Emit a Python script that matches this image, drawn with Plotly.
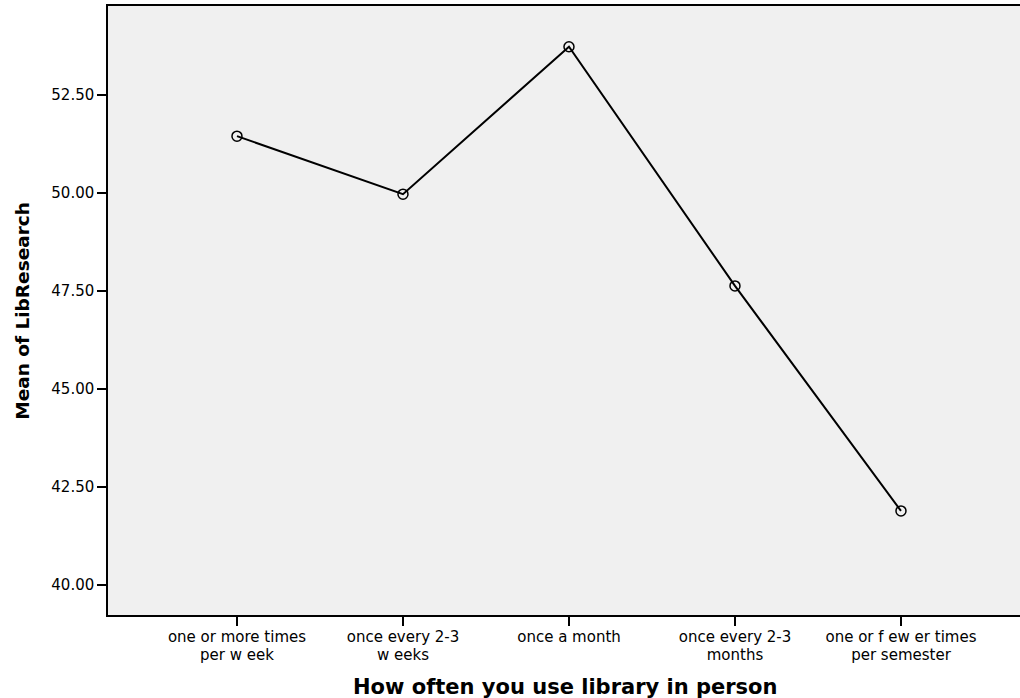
import plotly.graph_objects as go

categories = [
    "one or more times",
    "once every 2-3",
    "once a month",
    "once every 2-3",
    "one or f ew er times",
]
categories_line2 = [
    "per w eek",
    "w eeks",
    "",
    "months",
    "per semester",
]
means = [51.45, 49.97, 53.73, 47.63, 41.89]
y_ticks = [40.0, 42.5, 45.0, 47.5, 50.0, 52.5]
y_ticklabels = ["40.00", "42.50", "45.00", "47.50", "50.00", "52.50"]
x_title = "How often you use library in person"
y_title = "Mean of LibResearch"

font_family = "DejaVu Sans, Arial, sans-serif"
xpos = list(range(len(categories)))

fig = go.Figure()
fig.add_trace(go.Scatter(
    x=xpos,
    y=means,
    mode="lines+markers",
    line=dict(color="black", width=2),
    marker=dict(symbol="circle-open", size=10, color="black", line=dict(width=1.5, color="black")),
    showlegend=False,
    hoverinfo="skip",
))
# invisible carrier trace so the second-line label axis is drawn
fig.add_trace(go.Scatter(
    x=xpos,
    y=means,
    xaxis="x2",
    mode="lines",
    line=dict(width=0, color="rgba(0,0,0,0)"),
    opacity=0,
    showlegend=False,
    hoverinfo="skip",
))

fig.update_layout(
    width=1020, height=698,
    margin=dict(l=108, r=0, t=6, b=83),
    paper_bgcolor="white",
    plot_bgcolor="#f0f0f0",
    font=dict(family=font_family, color="black"),
)
fig.update_layout(
    xaxis=dict(
        tickmode="array",
        tickvals=xpos,
        ticktext=categories,
        range=[-0.777, 4.717],
        showgrid=False, zeroline=False,
        showline=True, linecolor="black", linewidth=1.5, mirror=True,
        ticks="outside", ticklen=9, tickwidth=1.5, tickcolor="black",
        tickfont=dict(size=15, family=font_family, color="black"),
        ticklabelstandoff=-2,
    ),
    xaxis2=dict(
        overlaying="x",
        matches="x",
        side="bottom",
        anchor="y",
        tickmode="array",
        tickvals=xpos,
        ticktext=categories_line2,
        range=[-0.777, 4.717],
        showgrid=False, zeroline=False, showline=False,
        ticks="",
        tickfont=dict(size=15, family=font_family, color="black"),
        ticklabelstandoff=29,
    ),
    yaxis=dict(
        tickmode="array",
        tickvals=y_ticks,
        ticktext=y_ticklabels,
        range=[39.235, 54.77],
        showgrid=False, zeroline=False,
        showline=True, linecolor="black", linewidth=1.5,
        ticks="outside", ticklen=9, tickwidth=1.5, tickcolor="black",
        tickfont=dict(size=15, family=font_family, color="black"),
    ),
)
fig.add_annotation(
    text="<b>" + x_title + "</b>", xref="paper", yref="paper",
    x=0.501, y=-0.118, xanchor="center", yanchor="middle", showarrow=False,
    font=dict(size=21, family=font_family, color="black"),
)
fig.add_annotation(
    text="<b>" + y_title + "</b>", xref="paper", yref="paper",
    x=-0.094, y=0.5, xanchor="center", yanchor="middle", showarrow=False,
    textangle=-90,
    font=dict(size=18.5, family=font_family, color="black"),
)

fig.write_html(
    "out.html",
    config={"displayModeBar": False},
    post_script="document.body.style.margin='0';document.body.style.overflow='hidden';",
)
